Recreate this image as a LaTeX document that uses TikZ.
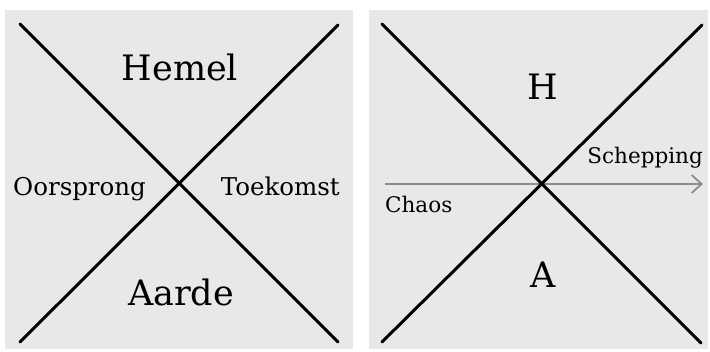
\documentclass[tikz,border=0pt]{standalone}
\usepackage{fontspec}
\setmainfont{DejaVu Serif}
\usetikzlibrary{arrows.meta}
\definecolor{panelgray}{HTML}{E8E8E8}
\definecolor{arrowgray}{HTML}{8C8C8C}
\tikzset{
	panel/.style={fill=panelgray,draw=none},
	cross/.style={line width=3pt,line cap=round},
	biglabel/.style={font=\fontsize{35}{35}\selectfont,inner sep=0pt},
	sidelabel/.style={font=\fontsize{24.5}{24.5}\selectfont,inner sep=0pt},
	smalllabel/.style={font=\fontsize{21.5}{21.5}\selectfont,inner sep=0pt}
}
\begin{document}
\begin{tikzpicture}[x=1pt,y=-1pt]
	\useasboundingbox (0,0) rectangle (710,351);
	%left panel
	\fill[panel] (5,10) rectangle (353,349);
	\coordinate (LNW) at (20,24);
	\coordinate (LNE) at (338,25);
	\coordinate (LSW) at (20,342);
	\coordinate (LSE) at (338,342);
	\draw[cross] (LNW) -- (LSE);
	\draw[cross] (LNE) -- (LSW);
	\node[biglabel,anchor=base] (hemel) at (180,80) {Hemel};
	\node[biglabel,anchor=base] (aarde) at (181,305) {Aarde};
	\node[sidelabel,anchor=base west] (oorsprong) at (13,195) {Oorsprong};
	\node[sidelabel,anchor=base east] (toekomst) at (340,195) {Toekomst};

	%right panel
	\fill[panel] (369,10) rectangle (708,349);
	\coordinate (RNW) at (382,24);
	\coordinate (RNE) at (702,25);
	\coordinate (RSW) at (382,342);
	\coordinate (RSE) at (701,343);
	\coordinate (chaosstart) at (385,184);
	\coordinate (scheppingend) at (703,184);
	\draw[arrowgray,line width=1.8pt,-{Straight Barb[length=10pt,width=18pt,line width=1.8pt]}] (chaosstart) -- (scheppingend);
	\draw[cross] (RNW) -- (RSE);
	\draw[cross] (RNE) -- (RSW);
	\node[biglabel,anchor=base] (h) at (543,99) {H};
	\node[biglabel,anchor=base] (a) at (543,287) {A};
	\node[smalllabel,anchor=base east] (schepping) at (703,163) {Schepping};
	\node[smalllabel,anchor=base west] (chaos) at (385,212) {Chaos};
\end{tikzpicture}
\end{document}
